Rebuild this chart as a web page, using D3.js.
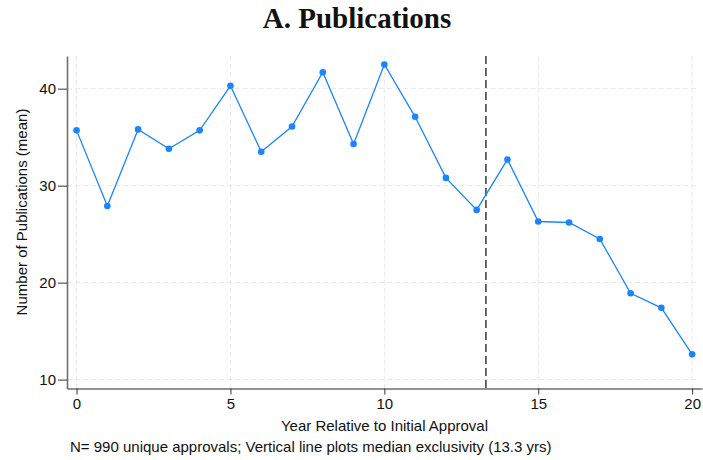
<!DOCTYPE html>
<html>
<head>
<meta charset="utf-8">
<script src="https://cdn.jsdelivr.net/npm/d3@7"></script>
<style>
  body { margin: 0; background: #fff; }
  svg text { font-family: "Liberation Sans", Arial, sans-serif; fill: #111; }
</style>
</head>
<body>
<svg id="chart" width="703" height="460"></svg>
<script>
// years relative to initial approval and mean publications
const years = [0, 1, 2, 3, 4, 5, 6, 7, 8, 9, 10, 11, 12, 13, 14, 15, 16, 17, 18, 19, 20];
const pubs = [35.7, 27.9, 35.8, 33.8, 35.7, 40.3, 33.5, 36.1, 41.7, 34.3, 42.5,
              37.1, 30.8, 27.5, 32.7, 26.3, 26.2, 24.5, 18.9, 17.4, 12.6];
const xTicks = [0, 5, 10, 15, 20];
const yTicks = [10, 20, 30, 40];
const medianExcl = 13.3;

const svg = d3.select("#chart");

// plot area edges (axis lines)
const plotL = 67, plotR = 702, plotT = 56, plotB = 388.5;

const x = d3.scaleLinear().domain([-0.31, 20.32]).range([plotL, plotR]);
const y = d3.scaleLinear().domain([9.08, 43.37]).range([plotB, plotT]);

// ─── Grid ─────────────────────────────────────────────────────────────────────
const grid = svg.append("g").attr("stroke", "#e8e8e8").attr("stroke-width", 1)
    .attr("stroke-dasharray", "5,3");
grid.selectAll(".gx").data(xTicks).join("line")
    .attr("x1", d => x(d)).attr("x2", d => x(d))
    .attr("y1", plotT).attr("y2", plotB);
grid.selectAll(".gy").data(yTicks).join("line")
    .attr("x1", plotL).attr("x2", 698)
    .attr("y1", d => y(d)).attr("y2", d => y(d));

// ─── Axes ─────────────────────────────────────────────────────────────────────
const xAxis = svg.append("g").attr("transform", `translate(0,${plotB})`)
    .call(d3.axisBottom(x).tickValues(xTicks).tickSize(6).tickPadding(4).tickSizeOuter(0));
const yAxis = svg.append("g").attr("transform", `translate(${plotL},0)`)
    .call(d3.axisLeft(y).tickValues(yTicks).tickSize(9).tickPadding(2).tickSizeOuter(0));

[xAxis, yAxis].forEach(a => {
    a.select(".domain").attr("stroke", "#6e6e6e").attr("stroke-width", 1.6);
    a.selectAll(".tick line").attr("stroke", "#333").attr("stroke-width", 1);
    a.selectAll(".tick text").attr("font-size", 15).attr("fill", "#111")
        .attr("font-family", "Liberation Sans, Arial, sans-serif");
});

// ─── Median exclusivity line ──────────────────────────────────────────────────
svg.append("line")
    .attr("x1", x(medianExcl)).attr("x2", x(medianExcl))
    .attr("y1", plotT).attr("y2", plotB)
    .attr("stroke", "#444").attr("stroke-width", 1.6)
    .attr("stroke-dasharray", "8,4");

// ─── Series ───────────────────────────────────────────────────────────────────
const pts = years.map((yr, i) => ({ yr, v: pubs[i] }));
const line = d3.line().x(d => x(d.yr)).y(d => y(d.v));

svg.append("path").datum(pts)
    .attr("d", line)
    .attr("fill", "none")
    .attr("stroke", "#1a85ff")
    .attr("stroke-width", 1.3);

svg.selectAll(".dot").data(pts).join("circle")
    .attr("cx", d => x(d.yr)).attr("cy", d => y(d.v))
    .attr("r", 3.3)
    .attr("fill", "#1a85ff");

// ─── Text ─────────────────────────────────────────────────────────────────────
svg.append("text")
    .attr("x", 357).attr("y", 28)
    .attr("text-anchor", "middle")
    .attr("font-weight", "bold")
    .attr("font-size", 29)
    .style("font-family", "'Liberation Serif', 'Times New Roman', serif")
    .text("A. Publications");

svg.append("text")
    .attr("transform", "translate(27,212) rotate(-90)")
    .attr("text-anchor", "middle")
    .attr("font-size", 15)
    .text("Number of Publications (mean)");

svg.append("text")
    .attr("x", 384.5).attr("y", 431)
    .attr("text-anchor", "middle")
    .attr("font-size", 15)
    .text("Year Relative to Initial Approval");

svg.append("text")
    .attr("x", 70).attr("y", 452)
    .attr("font-size", 15)
    .text("N= 990 unique approvals; Vertical line plots median exclusivity (13.3 yrs)");
</script>
</body>
</html>
